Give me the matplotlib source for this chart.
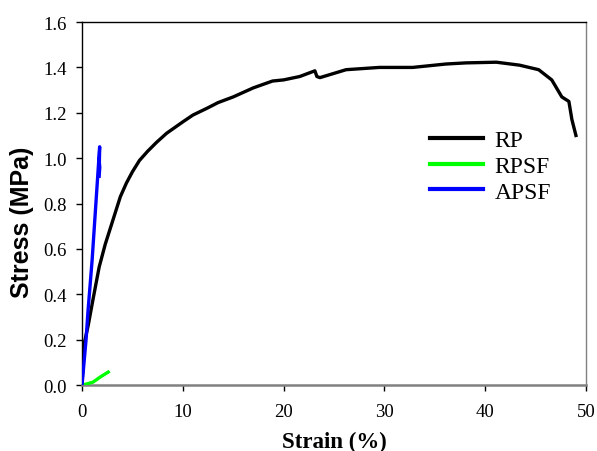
import matplotlib
matplotlib.use('Agg')
import matplotlib.pyplot as plt

# stress-strain data
rp_strain = [0, 0.2, 0.6, 1.1, 1.7, 2.3, 2.8, 3.3, 3.8, 4.4, 5.0, 5.7, 6.5, 7.4, 8.4,
             10, 11, 12.4, 13.5, 15, 17, 18.9, 20, 21.6, 23.1, 23.3, 23.6, 26.2, 29.5,
             32.8, 36.1, 38.1, 41.1, 43.4, 45.3, 46.6, 47.6, 48.3, 48.6, 49.0]
rp_stress = [0, 0.18, 0.26, 0.38, 0.52, 0.62, 0.69, 0.76, 0.83, 0.89, 0.94, 0.99, 1.03,
             1.07, 1.11, 1.16, 1.19, 1.22, 1.245, 1.27, 1.31, 1.34, 1.345, 1.36, 1.385,
             1.36, 1.355, 1.39, 1.40, 1.40, 1.415, 1.42, 1.423, 1.41, 1.39, 1.345, 1.27,
             1.25, 1.17, 1.10]

rpsf_strain = [0, 0.5, 1.1, 1.8, 2.6]
rpsf_stress = [0, 0.005, 0.013, 0.035, 0.057]

apsf_strain = [0, 0.4, 0.6, 1.0, 1.3, 1.6, 1.75, 1.72, 1.76, 1.7]
apsf_stress = [0, 0.2, 0.33, 0.55, 0.75, 0.95, 1.05, 0.98, 0.96, 0.92]

serif = 'Liberation Serif'
sans = 'Liberation Sans'

fig = plt.figure(figsize=(5.97, 4.52), dpi=100)
ax = fig.add_axes([0.1374, 0.146, 0.8442, 0.803])

ax.plot(rp_strain, rp_stress, color='black', lw=2.4, label='RP', zorder=3)
ax.plot(rpsf_strain, rpsf_stress, color='#00ff00', lw=2.4, label='RPSF', zorder=3)
ax.plot(apsf_strain, apsf_stress, color='#0000ff', lw=2.4, label='APSF', zorder=4)

ax.set_xlim(0, 50)
ax.set_ylim(0, 1.6)
ax.set_xticks([0, 10, 20, 30, 40, 50])
ax.set_yticks([0.0, 0.2, 0.4, 0.6, 0.8, 1.0, 1.2, 1.4, 1.6])
ax.set_yticklabels([f'{v:.1f}' for v in ax.get_yticks()])

for lab in ax.get_xticklabels() + ax.get_yticklabels():
    lab.set_fontfamily(serif)
    lab.set_fontsize(13.5)

ax.tick_params(axis='y', direction='out', length=4, width=1, pad=7)
ax.tick_params(axis='x', direction='out', length=4, width=1, pad=9)

ax.spines['left'].set_color('black')
ax.spines['top'].set_color('black')
ax.spines['right'].set_color('#808080')
ax.spines['bottom'].set_color('#808080')
ax.spines['bottom'].set_linewidth(1.8)
for s in ['left', 'top', 'right']:
    ax.spines[s].set_linewidth(1.0)

# x label is bold serif, y label bold sans (as in the source figure)
ax.set_xlabel('Strain (%)', fontfamily=serif, fontweight='bold', fontsize=16.5, labelpad=8)
ax.set_ylabel('Stress (MPa)', fontfamily=sans, fontweight='bold', fontsize=18)
ax.yaxis.set_label_coords(-0.095, 0.45)

leg = ax.legend(loc='center left', bbox_to_anchor=(0.69, 0.603), frameon=False,
                prop={'family': serif, 'size': 17}, handlelength=2.25,
                handletextpad=0.5, labelspacing=0.18, borderpad=0, borderaxespad=0)
for line in leg.get_lines():
    line.set_linewidth(3)

fig.savefig('out.png', dpi=100)
